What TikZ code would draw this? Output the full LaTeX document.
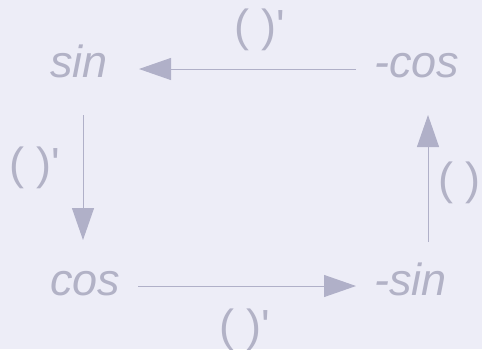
\documentclass[tikz,border=0pt]{standalone}
\usepackage{fontspec}
\setmainfont{Liberation Sans}
\usetikzlibrary{arrows.meta}
\definecolor{bgc}{RGB}{237,237,247}
\definecolor{txc}{RGB}{178,178,198}
\definecolor{lnc}{RGB}{176,176,200}
\newcommand{\drv}{{\upshape( )\textquotesingle}}
\begin{document}
\begin{tikzpicture}[x=1pt,y=1pt,
  lbl/.style={anchor=base west,inner sep=0pt,text=txc,font=\fontsize{45}{54}\selectfont\itshape},
  arr/.style={draw=lnc,line width=1pt,-{Triangle[length=32pt,width=22pt]}}]
\fill[bgc] (0,0) rectangle (482,-349);
\useasboundingbox (0,0) rectangle (482,-349);
\node[lbl] (sin) at (50,-77) {sin};
\node[lbl] (cos) at (50,-295) {cos};
\node[lbl] (mcos) at (374,-77) {-cos};
\node[lbl] (msin) at (374,-295) {-sin};
\node[lbl] (ltop) at (234,-41) {\drv};
\node[lbl] (lleft) at (9,-179) {\drv};
\node[lbl] (lright) at (438,-194) {\drv};
\node[lbl] (lbot) at (219,-341) {\drv};
\draw[arr] ([shift={(-18,8)}]mcos.base west) -- ([shift={(89,8)}]sin.base west);
\draw[arr] ([shift={(33,-38)}]sin.base west) -- ([shift={(33,55)}]cos.base west);
\draw[arr] ([shift={(88,9)}]cos.base west) -- ([shift={(-18,9)}]msin.base west);
\draw[arr] ([shift={(54,53)}]msin.base west) -- ([shift={(54,-38)}]mcos.base west);
\end{tikzpicture}
\end{document}
